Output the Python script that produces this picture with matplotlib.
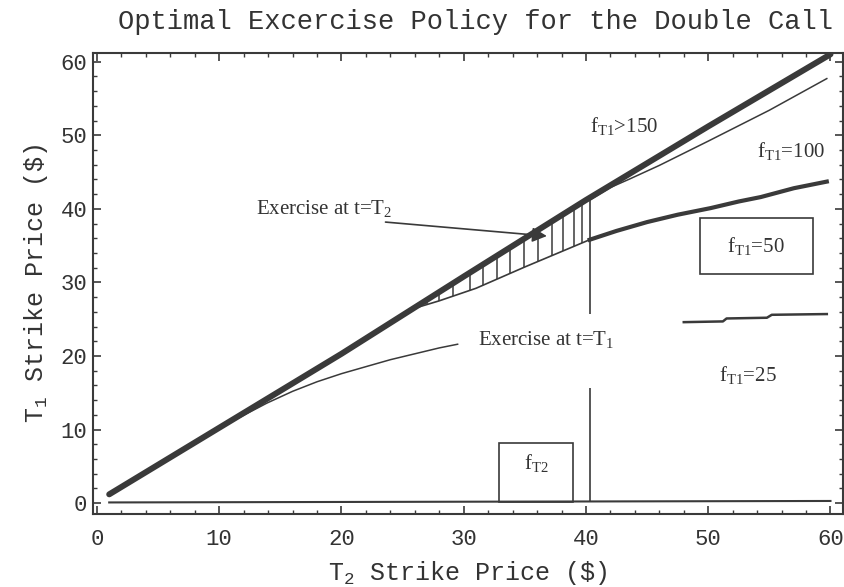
import matplotlib
matplotlib.use('Agg')

import numpy as np
import matplotlib.pyplot as plt
from matplotlib.patches import Rectangle

plt.rcParams['mathtext.fontset'] = 'custom'
plt.rcParams['mathtext.rm'] = 'Liberation Serif'
plt.rcParams['mathtext.tt'] = 'Liberation Mono'

INK = '#3a3a3a'
MONO = 'Liberation Mono'
SERIF = 'Liberation Serif'

# thick boundary: early exercise line (T1 strike vs T2 strike)
diag_x = [1, 20, 30, 40, 50, 60]
diag_y = [1.2, 20.3, 30.8, 41.2, 51.2, 61.0]

# f_T1 = 150 contour (thin, upper right)
f150_x = [40.3, 42.0, 43.5, 46.0, 50.0, 55.0, 59.7]
f150_y = [41.2, 42.9, 44.0, 45.9, 49.2, 53.4, 57.7]

# f_T1 = 100 contour, lower edge of hatched region then thick curve
f100_x = [26.0, 28.0, 31.0, 35.0, 40.3, 42.5, 45.0, 47.5, 50.2, 52.5, 54.3, 57.0, 59.7]
f100_y = [26.5, 27.5, 29.2, 32.1, 35.8, 37.0, 38.2, 39.2, 40.1, 41.0, 41.6, 42.8, 43.7]

# f_T1 = 50 contour (thin, lower left)
f50_x = [1, 10, 13.9, 16.0, 18.0, 20.0, 22.1, 24.0, 26.0, 28.0, 29.5]
f50_y = [1.2, 10.2, 13.6, 15.2, 16.5, 17.6, 18.6, 19.5, 20.3, 21.1, 21.6]

# f_T1 = 25 contour (short stepped piece)
f25_x = [48.0, 51.2, 51.5, 54.8, 55.2, 59.7]
f25_y = [24.6, 24.7, 25.1, 25.2, 25.6, 25.7]

# f_T2 level along the bottom
ft2_x = [1, 60]
ft2_y = [0.1, 0.3]

# hatch positions in the exercise-at-T2 region
hatch_x = [27.0, 28.0, 29.1, 30.5, 31.6, 32.7, 33.8, 34.9, 36.1, 37.2, 38.1, 39.0, 39.7]

fig = plt.figure(figsize=(8.45, 5.87), dpi=100)
ax = fig.add_axes([0.110, 0.124, 0.888, 0.786])

ax.plot(diag_x, diag_y, color=INK, lw=4.3, solid_capstyle='round', zorder=4)
ax.plot(f150_x, f150_y, color=INK, lw=1.1)
ax.plot(f100_x[:5], f100_y[:5], color=INK, lw=1.2)
ax.plot(f100_x[4:], f100_y[4:], color=INK, lw=3.0, solid_joinstyle='round')
ax.plot(f50_x, f50_y, color=INK, lw=1.1)
ax.plot(f25_x, f25_y, color=INK, lw=1.8)
ax.plot(ft2_x, ft2_y, color=INK, lw=1.5)

# hatching
lo = np.interp(hatch_x, f100_x, f100_y)
hi = np.interp(hatch_x, diag_x, diag_y)
ax.vlines(hatch_x, lo, hi, color=INK, lw=1.1)

# vertical divider at T2 strike = 40
ax.vlines(40.3, 25.7, 41.2, color=INK, lw=1.2)
ax.vlines(40.3, 0.2, 15.7, color=INK, lw=1.2)

# boxes
ax.add_patch(Rectangle((49.3, 31.2), 9.3, 7.6, fill=False, ec=INK, lw=1.2))
ax.add_patch(Rectangle((32.9, 0.2), 6.0, 8.0, fill=False, ec=INK, lw=1.2))

# labels
tk = dict(family=SERIF, fontsize=15, color='#333333', va='center')
ax.text(40.3, 51.2, r'f$_{\mathrm{T1}}$>150', **tk)
ax.text(54.0, 47.8, r'f$_{\mathrm{T1}}$=100', **tk)
ax.text(53.9, 34.8, r'f$_{\mathrm{T1}}$=50', ha='center', **tk)
ax.text(50.9, 17.3, r'f$_{\mathrm{T1}}$=25', **tk)
ax.text(35.9, 5.4, r'f$_{\mathrm{T2}}$', ha='center', **tk)
ax.text(13.0, 39.9, r'Exercise at t=T$_{2}$', **tk)
ax.text(31.2, 22.2, r'Exercise at t=T$_{1}$', **tk)

ax.annotate('', xy=(36.8, 36.3), xytext=(23.6, 38.2),
            arrowprops=dict(arrowstyle='-|>', color=INK, lw=1.2,
                            mutation_scale=22, shrinkA=0, shrinkB=0))

ax.set_xlim(-0.33, 61.05)
ax.set_ylim(-1.5, 61.2)

ax.set_xticks(np.arange(0, 61, 10))
ax.set_yticks(np.arange(0, 61, 10))
ax.set_xticks(np.arange(0, 61, 2), minor=True)
ax.set_yticks(np.arange(0, 61, 2), minor=True)
ax.tick_params(which='both', direction='in', top=True, right=True, color=INK)
ax.tick_params(which='major', length=6, width=1.2)
ax.tick_params(which='minor', length=3, width=1.0)
ax.tick_params(axis='x', which='major', pad=11, labelsize=16, labelcolor='#333333')
ax.tick_params(axis='y', which='major', pad=4, labelsize=16, labelcolor='#333333')
for lab in ax.get_xticklabels() + ax.get_yticklabels():
    lab.set_family(MONO)

for sp in ax.spines.values():
    sp.set_color(INK)
    sp.set_linewidth(1.5)

ax.set_xlabel(r'T$_{\mathtt{2}}$ Strike Price (\$)', family=MONO, fontsize=18,
              color='#333333', labelpad=6)
ax.set_ylabel(r'T$_{\mathtt{1}}$ Strike Price (\$)', family=MONO, fontsize=18,
              color='#333333', labelpad=8)
fig.suptitle('Optimal Excercise Policy for the Double Call', family=MONO,
             fontsize=19.5, color='#333333', x=0.563, y=0.985)

plt.savefig('out.png', dpi=100)
